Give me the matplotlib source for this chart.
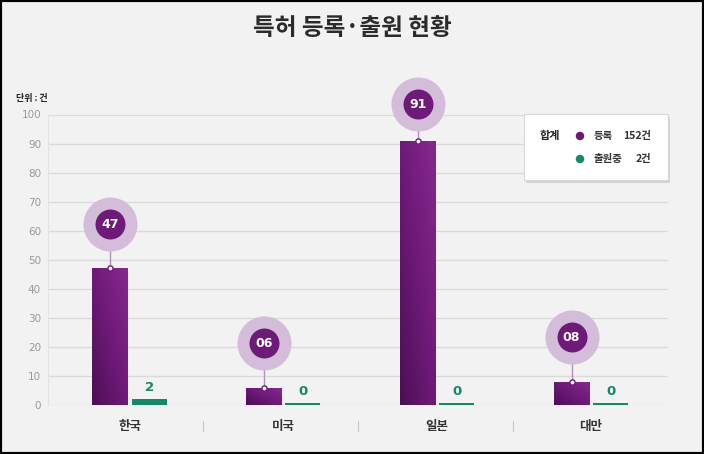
import matplotlib
matplotlib.use("Agg")
import matplotlib.pyplot as plt
import numpy as np
from matplotlib.patches import Rectangle, Ellipse
from matplotlib.colors import LinearSegmentedColormap

plt.rcParams['font.family'] = ['Noto Sans CJK KR', 'DejaVu Sans']

# ---- data ----
categories = ['한국', '미국', '일본', '대만']
registered = [47, 6, 91, 8]
registered_labels = ['47', '06', '91', '08']
pending = [2, 0, 0, 0]
yticks = [0, 10, 20, 30, 40, 50, 60, 70, 80, 90, 100]
title = '특허 등록·출원 현황'
unit_text = '단위 : 건'
legend_total = '합계'
legend_rows = [('등록', '152건'), ('출원중', '2건')]

# ---- style ----
BG = '#f2f2f2'
PURPLE = '#6e1a78'
PURPLE_DARK = '#4c0f55'
PURPLE_LIGHT = '#86298f'
HALO = '#d3bdd8'
GREEN = '#17876a'
MIN_H = 0.7

W, H = 704, 454
fig = plt.figure(figsize=(W / 100, H / 100), dpi=100)
fig.patch.set_facecolor(BG)

ax_l, ax_r = 48 / W, 668 / W
ax_b, ax_t = 1 - 405 / H, 1 - 114.5 / H
ax = fig.add_axes([ax_l, ax_b, ax_r - ax_l, ax_t - ax_b])
ax.set_facecolor(BG)

x = np.arange(len(categories))
xlim = (-0.53, 3.5)
bw = 0.228
off = 0.127

cmap = LinearSegmentedColormap.from_list('pg', [PURPLE_DARK, PURPLE, PURPLE_LIGHT])
gx, gy = np.meshgrid(np.linspace(0, 1, 40), np.linspace(0, 1, 80))
grad = (gx + gy) / 2

bars = ax.bar(x - off, registered, width=bw, color=PURPLE, zorder=3, linewidth=0)
for rect in bars:
    x0 = rect.get_x()
    h = rect.get_height()
    im = ax.imshow(grad, cmap=cmap, origin='lower', aspect='auto',
                   extent=[x0, x0 + rect.get_width(), 0, h], zorder=3.5,
                   vmin=0, vmax=1)
    im.set_clip_path(rect)

gh = [max(v, MIN_H) for v in pending]
ax.bar(x + off, gh, width=bw, color=GREEN, zorder=3, linewidth=0)

ax.set_xlim(*xlim)
ax.set_ylim(0, 100)
ax.set_yticks(yticks)
ax.set_xticks([])
ax.tick_params(axis='y', length=0, pad=5, labelsize=7.5, labelcolor='#999999')
for lab in ax.get_yticklabels():
    lab.set_family(['DejaVu Sans'])
ax.grid(axis='y', color='#dadada', linewidth=1, zorder=0)
for s in ['top', 'right', 'bottom']:
    ax.spines[s].set_visible(False)
ax.spines['left'].set_color('#e2e2e2')
ax.spines['left'].set_linewidth(0.8)

# halos and labels for registered values
for xi, v, lab in zip(x, registered, registered_labels):
    cy = min(v + 15.3, 103.5)
    xc = xi - off
    ax.plot([xc, xc], [v, cy], color='#b58fbd', lw=1, zorder=4, clip_on=False)
    ax.scatter([xc], [cy], s=1513, color=HALO, zorder=5, clip_on=False, linewidths=0)
    ax.scatter([xc], [cy], s=466, color=PURPLE, zorder=6, clip_on=False, linewidths=0)
    ax.scatter([xc], [v], s=14, facecolor='white', edgecolor=PURPLE, zorder=6,
               linewidths=1, clip_on=False)
    ax.text(xc, cy, lab, ha='center', va='center', color='white', fontsize=9,
            fontweight='bold', zorder=7, family=['DejaVu Sans'])

# pending labels
for xi, v, hh in zip(x, pending, gh):
    ax.text(xi + off, hh + 1.8, str(v), ha='center', va='bottom', color=GREEN,
            fontsize=9.5, fontweight='bold', zorder=7, family=['DejaVu Sans'])

# category labels and dividers
band = (xlim[1] - xlim[0]) / len(categories)
trans = ax.get_xaxis_transform()
for xi, c in zip(x, categories):
    ax.text(xi, -0.075, c, transform=trans, ha='center', va='center',
            fontsize=9, fontweight='bold', color='#333333')
for k in range(1, len(categories)):
    xd = xlim[0] + band * k
    ax.plot([xd, xd], [-0.055, -0.09], transform=trans, color='#c8c8c8', lw=0.8,
            clip_on=False)

# title and unit
fig.text(0.5, 1 - 28 / H, title, ha='center', va='center', fontsize=17,
         fontweight='bold', color='#2b2b2b')
fig.text(16 / W, 1 - 99 / H, unit_text, ha='left', va='center', fontsize=6.5,
         fontweight='bold', color='#222222')

# legend box
lx0, ly0, lw_, lh_ = 524 / W, 1 - 180 / H, 144 / W, 66 / H
fig.patches.append(Rectangle((lx0 + 2 / W, ly0 - 3 / H), lw_, lh_, transform=fig.transFigure,
                             facecolor='#000000', alpha=0.12, edgecolor='none', zorder=8))
fig.patches.append(Rectangle((lx0, ly0), lw_, lh_, transform=fig.transFigure,
                             facecolor='white', edgecolor='#d8d8d8', lw=0.8, zorder=9))
row_y = [1 - 136 / H, 1 - 159 / H]
fig.text(550 / W, row_y[0], legend_total, ha='center', va='center', fontsize=8,
         fontweight='bold', color='#222222', zorder=10)
for (name, val), yy, col in zip(legend_rows, row_y, [PURPLE, GREEN]):
    fig.patches.append(Ellipse((580 / W, yy), 8.5 / W, 8.5 / H, transform=fig.transFigure,
                               facecolor=col, edgecolor='none', zorder=10))
    fig.text(594 / W, yy, name, ha='left', va='center', fontsize=7.5,
             fontweight='bold', color='#333333', zorder=10)
    fig.text(651 / W, yy, val, ha='right', va='center', fontsize=7.5,
             fontweight='bold', color='#333333', zorder=10)

# outer frame
fig.patches.append(Rectangle((0, 0), 1, 1, transform=fig.transFigure, fill=False,
                             edgecolor='black', lw=3, zorder=20))

fig.savefig('out.png', dpi=100, facecolor=BG)
